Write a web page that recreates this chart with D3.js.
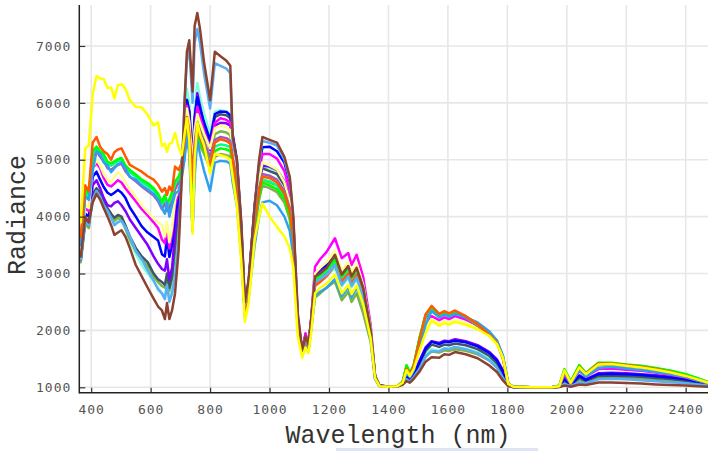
<!DOCTYPE html>
<html>
<head>
<meta charset="utf-8">
<script src="https://cdn.jsdelivr.net/npm/d3@7"></script>
<style>
  html, body { margin: 0; padding: 0; background: #fff; }
  svg { display: block; }
</style>
</head>
<body>
<svg id="chart" width="708" height="451"></svg>
<script>
// Sampling wavelengths (nm) shared by every spectrum
const wavelengths = [
  365, 380, 392, 405, 418, 430, 442, 455, 467, 478,
  490, 502, 515, 530, 550, 570, 590, 610, 625, 638,
  648, 655, 663, 672, 682, 694, 705, 714, 722, 730,
  741, 748, 757, 766, 780, 800, 816, 835, 855, 868,
  876, 890, 905, 917, 930, 950, 965, 976, 1000, 1025,
  1050, 1068, 1080, 1095, 1110, 1121, 1131, 1140, 1153, 1170,
  1192, 1220, 1243, 1265, 1276, 1293, 1315, 1340, 1355, 1370,
  1400, 1430, 1448, 1461, 1472, 1485, 1505, 1525, 1545, 1571,
  1588, 1604, 1624, 1660, 1700, 1740, 1765, 1785, 1803, 1820,
  1880, 1950, 1975, 1992, 2013, 2042, 2064, 2106, 2150, 2200,
  2250, 2300, 2350, 2400, 2440, 2476
];

// Radiance spectra
const aquamarine = [
  3200, 3850, 3800, 4300, 4400, 4320, 4150, 4050, 3950, 3900,
  3950, 3920, 3780, 3560, 3350, 3150, 3000, 2860, 2750, 2650,
  2600, 2850, 2590, 2800, 3300, 4100, 4950, 5700, 6250, 6000,
  5100, 5900, 6350, 6100, 5800, 5450, 5850, 5870, 5850, 5800,
  5400, 5000, 3800, 2420, 2870, 4150, 4700, 4900, 4850, 4800,
  4600, 4300, 3700, 2150, 1630, 1900, 1730, 2130, 2800, 2880,
  2960, 3100, 2780, 2920, 2760, 2900, 2560, 1900, 1170, 1025,
  1010, 1012, 1050, 1150, 1100, 1170, 1380, 1580, 1670, 1640,
  1690, 1680, 1710, 1680, 1620, 1500, 1380, 1210, 1030, 1005,
  1000, 1000, 1010, 1100, 1030, 1145, 1095, 1165, 1170, 1160,
  1150, 1135, 1115, 1090, 1065, 1040
];
const yellowgreen = [
  3200, 3900, 3800, 4350, 4450, 4370, 4200, 4100, 4000, 3930,
  3980, 3950, 3800, 3600, 3400, 3250, 3130, 2950, 2850, 2780,
  2750, 2950, 2700, 2900, 3400, 4100, 4800, 5400, 5800, 5500,
  4300, 5300, 5700, 5550, 5350, 5000, 5450, 5500, 5480, 5430,
  5100, 4700, 3600, 2330, 2750, 3950, 4450, 4650, 4600, 4550,
  4350, 4050, 3500, 2050, 1580, 1830, 1690, 2030, 2580, 2650,
  2750, 2860, 2530, 2680, 2500, 2650, 2300, 1800, 1150, 1020,
  1010, 1012, 1045, 1130, 1090, 1150, 1340, 1540, 1630, 1610,
  1650, 1640, 1670, 1640, 1580, 1470, 1350, 1190, 1030, 1005,
  1000, 1000, 1008, 1090, 1025, 1130, 1085, 1160, 1165, 1155,
  1145, 1130, 1110, 1085, 1060, 1035
];
const darkslate = [
  3250, 3950, 3850, 4400, 4500, 4420, 4250, 4150, 4050, 3980,
  4030, 4000, 3850, 3650, 3450, 3300, 3200, 3000, 2900, 2850,
  2800, 3000, 2750, 2950, 3500, 4200, 4950, 5550, 6050, 5850,
  4950, 5700, 6100, 5900, 5600, 5300, 5750, 5800, 5780, 5730,
  5350, 4950, 3750, 2400, 2850, 4100, 4650, 4850, 4800, 4750,
  4550, 4250, 3650, 2150, 1630, 1900, 1730, 2150, 2900, 2980,
  3080, 3230, 2920, 3060, 2890, 3040, 2700, 1980, 1185, 1028,
  1010, 1015, 1055, 1170, 1110, 1190, 1420, 1640, 1750, 1710,
  1750, 1740, 1770, 1740, 1670, 1550, 1420, 1240, 1035, 1005,
  1000, 1000, 1010, 1120, 1035, 1170, 1110, 1200, 1205, 1195,
  1185, 1165, 1145, 1115, 1085, 1050
];
const purple = [
  3250, 3950, 3900, 4550, 4640, 4500, 4330, 4200, 4180, 4240,
  4270, 4200, 4100, 3950, 3800, 3650, 3500, 3300, 3170, 3080,
  3050, 3250, 2890, 3100, 3700, 4300, 4900, 5500, 5900, 5700,
  4800, 5650, 6170, 5950, 5600, 5170, 5600, 5650, 5640, 5600,
  5250, 4850, 3700, 2380, 2820, 4100, 4650, 4900, 4880, 4820,
  4620, 4300, 3700, 2150, 1630, 1900, 1730, 2150, 2950, 3030,
  3120, 3280, 2970, 3100, 2930, 3080, 2720, 1990, 1190, 1030,
  1010, 1015, 1065, 1200, 1130, 1220, 1470, 1700, 1810, 1780,
  1820, 1810, 1845, 1810, 1740, 1620, 1490, 1300, 1040, 1005,
  1000, 1000, 1012, 1160, 1045, 1210, 1140, 1245, 1255, 1245,
  1230, 1210, 1185, 1150, 1110, 1065
];
const blue = [
  3300, 4050, 4000, 4700, 4790, 4650, 4520, 4420, 4380, 4420,
  4470, 4420, 4330, 4160, 4000, 3830, 3720, 3640, 3580, 3340,
  3300, 3650, 3290, 3500, 4000, 4400, 4950, 5600, 6050, 5850,
  4900, 5750, 6100, 5900, 5650, 5350, 5800, 5850, 5840, 5780,
  5450, 5000, 3800, 2420, 2870, 4200, 4900, 5220, 5230, 5150,
  4950, 4600, 3900, 2200, 1650, 1930, 1750, 2180, 2980, 3080,
  3150, 3300, 3000, 3130, 2950, 3100, 2750, 2000, 1190, 1030,
  1010, 1015, 1060, 1180, 1120, 1200, 1450, 1680, 1800, 1760,
  1800, 1790, 1820, 1790, 1720, 1600, 1470, 1280, 1040, 1005,
  1000, 1000, 1010, 1150, 1040, 1200, 1130, 1230, 1240, 1230,
  1215, 1195, 1170, 1140, 1100, 1060
];
const magenta = [
  3350, 4150, 4100, 4850, 4940, 4850, 4680, 4560, 4530, 4580,
  4640, 4600, 4500, 4400, 4270, 4130, 4020, 3900, 3800, 3600,
  3530, 3820, 3440, 3700, 4200, 4450, 4900, 5500, 5950, 5700,
  4900, 5550, 5930, 5750, 5500, 5200, 5650, 5730, 5700, 5650,
  5350, 4900, 3750, 2400, 2850, 4150, 4800, 5100, 5100, 5020,
  4800, 4450, 3800, 2200, 1650, 1950, 1750, 2200, 3120, 3250,
  3380, 3620, 3270, 3360, 3150, 3330, 2940, 2100, 1200, 1030,
  1010, 1020, 1080, 1300, 1200, 1320, 1720, 2080, 2250, 2180,
  2230, 2200, 2250, 2190, 2090, 1940, 1800, 1540, 1060, 1010,
  1000, 1000, 1015, 1220, 1060, 1290, 1190, 1320, 1330, 1310,
  1290, 1260, 1220, 1170, 1120, 1070
];
const lightyellow = [
  3400, 4200, 4150, 4850, 5000, 4900, 4750, 4650, 4600, 4700,
  4780, 4720, 4600, 4480, 4350, 4200, 4080, 3970, 3900, 3850,
  3650, 3900, 3550, 3800, 4300, 4500, 4900, 5500, 5900, 5650,
  4900, 5500, 5800, 5650, 5450, 5200, 5550, 5600, 5570, 5520,
  5200, 4800, 3700, 2380, 2780, 4050, 4650, 4950, 4900, 4830,
  4600, 4250, 3700, 2150, 1620, 1880, 1720, 2120, 3000, 3100,
  3200, 3400, 3050, 3200, 3000, 3180, 2800, 2030, 1190, 1025,
  1010, 1020, 1085, 1320, 1210, 1330, 1720, 2050, 2200, 2120,
  2170, 2140, 2190, 2130, 2040, 1900, 1760, 1520, 1060, 1010,
  1000, 1000, 1020, 1280, 1080, 1340, 1230, 1390, 1400, 1370,
  1340, 1300, 1260, 1200, 1140, 1080
];
const mauve = [
  3500, 4400, 4300, 5050, 5150, 5050, 4980, 4850, 4820, 4870,
  4910, 4930, 4800, 4700, 4620, 4530, 4450, 4370, 4270, 4130,
  4240, 4100, 4160, 4300, 4480, 4600, 4800, 5200, 5600, 5400,
  4800, 5300, 5650, 5500, 5300, 5050, 5350, 5400, 5380, 5330,
  5050, 4650, 3600, 2350, 2750, 3950, 4500, 4750, 4720, 4650,
  4450, 4150, 3650, 2100, 1600, 1850, 1700, 2080, 2850, 2920,
  3020, 3200, 2900, 3050, 2870, 3030, 2700, 1970, 1185, 1025,
  1010, 1020, 1090, 1350, 1230, 1360, 1820, 2220, 2350, 2240,
  2290, 2260, 2300, 2220, 2080, 1920, 1790, 1520, 1060, 1010,
  1000, 1000, 1020, 1280, 1085, 1350, 1230, 1390, 1395, 1370,
  1345, 1305, 1265, 1210, 1145, 1080
];
const olive = [
  3550, 4450, 4350, 5100, 5220, 5120, 5050, 4930, 4900, 4950,
  4990, 5010, 4880, 4790, 4710, 4620, 4550, 4470, 4370, 4230,
  4340, 4200, 4260, 4400, 4580, 4650, 4800, 5150, 5550, 5250,
  3800, 4900, 5380, 5250, 5100, 4850, 5050, 5100, 5080, 5050,
  4800, 4400, 3400, 2250, 2650, 3800, 4300, 4550, 4500, 4430,
  4250, 3950, 3450, 2050, 1580, 1810, 1680, 2040, 2800, 2880,
  2980, 3150, 2850, 3000, 2830, 2980, 2650, 1950, 1180, 1025,
  1010, 1020, 1095, 1370, 1240, 1380, 1860, 2260, 2380, 2270,
  2310, 2280, 2320, 2240, 2100, 1940, 1810, 1530, 1060, 1010,
  1000, 1000, 1025, 1300, 1090, 1370, 1240, 1410, 1410, 1385,
  1360, 1320, 1280, 1220, 1150, 1085
];
const springgreen = [
  3550, 4450, 4350, 5100, 5200, 5100, 5050, 4920, 4900, 4930,
  4970, 4990, 4860, 4780, 4700, 4610, 4540, 4460, 4360, 4220,
  4330, 4200, 4250, 4400, 4580, 4680, 4850, 5250, 5650, 5400,
  4300, 5050, 5500, 5350, 5200, 4950, 5230, 5270, 5250, 5220,
  4950, 4550, 3500, 2300, 2700, 3850, 4400, 4650, 4620, 4550,
  4350, 4050, 3550, 2090, 1590, 1840, 1690, 2070, 2880, 2950,
  3050, 3220, 2920, 3070, 2900, 3050, 2720, 1980, 1190, 1025,
  1010, 1020, 1100, 1380, 1245, 1385, 1870, 2270, 2390, 2275,
  2315, 2285, 2325, 2245, 2105, 1945, 1815, 1535, 1060, 1010,
  1000, 1000, 1028, 1310, 1095, 1380, 1245, 1420, 1420, 1392,
  1370, 1330, 1285, 1225, 1155, 1088
];
const lime = [
  3600, 4500, 4400, 5150, 5230, 5150, 5100, 4960, 4940, 4970,
  5010, 5030, 4900, 4820, 4740, 4650, 4590, 4500, 4400, 4260,
  4380, 4250, 4300, 4440, 4620, 4700, 4850, 5200, 5600, 5350,
  4500, 5000, 5450, 5300, 5150, 4900, 5150, 5200, 5180, 5150,
  4900, 4500, 3450, 2280, 2680, 3850, 4350, 4600, 4550, 4480,
  4300, 4000, 3500, 2080, 1590, 1830, 1690, 2060, 2900, 2980,
  3080, 3250, 2950, 3100, 2930, 3080, 2750, 2000, 1190, 1025,
  1010, 1020, 1100, 1390, 1250, 1390, 1880, 2280, 2400, 2280,
  2320, 2290, 2330, 2250, 2110, 1950, 1820, 1540, 1060, 1010,
  1000, 1000, 1030, 1320, 1100, 1390, 1250, 1430, 1430, 1400,
  1380, 1340, 1290, 1230, 1160, 1090
];
const dodger = [
  3500, 4350, 4300, 4800, 5150, 5100, 4950, 4900, 4780, 4850,
  4920, 4950, 4850, 4700, 4650, 4550, 4480, 4400, 4300, 4150,
  4050, 4250, 4000, 4200, 4400, 4450, 4700, 5000, 5400, 5100,
  3750, 4700, 5350, 5100, 4800, 4450, 4950, 4980, 4970, 4930,
  4600, 4200, 3300, 2250, 2600, 3500, 4000, 4250, 4280, 4200,
  4000, 3750, 3300, 2000, 1560, 1780, 1650, 2000, 2620, 2680,
  2750, 2900, 2600, 2760, 2580, 2750, 2450, 1850, 1150, 1020,
  1010, 1018, 1080, 1250, 1180, 1300, 1700, 2100, 2340, 2230,
  2280, 2240, 2290, 2230, 2140, 1980, 1820, 1560, 1060, 1010,
  1000, 1000, 1020, 1250, 1060, 1300, 1190, 1340, 1360, 1330,
  1300, 1270, 1230, 1180, 1120, 1070
];
const orangered = [
  3650, 4550, 4450, 5300, 5400, 5230, 5150, 5100, 5000, 5130,
  5180, 5200, 5060, 4910, 4850, 4790, 4710, 4650, 4560, 4440,
  4500, 4380, 4530, 4450, 4880, 4820, 4950, 5300, 5750, 5500,
  4600, 5200, 5550, 5400, 5200, 4900, 5300, 5360, 5330, 5280,
  5000, 4550, 3500, 2300, 2700, 3900, 4450, 4700, 4680, 4600,
  4400, 4100, 3600, 2100, 1600, 1850, 1700, 2080, 2780, 2850,
  2950, 3150, 2850, 3000, 2820, 2980, 2650, 1950, 1180, 1025,
  1010, 1020, 1090, 1330, 1230, 1380, 1850, 2280, 2430, 2290,
  2340, 2300, 2350, 2250, 2110, 1920, 1780, 1500, 1060, 1010,
  1000, 1000, 1020, 1290, 1080, 1360, 1240, 1420, 1420, 1390,
  1360, 1320, 1270, 1200, 1140, 1080
];
const skyblue = [
  3250, 3900, 3850, 4300, 4450, 4350, 4200, 4100, 3980, 3850,
  3900, 3930, 3820, 3650, 3400, 3250, 3050, 2880, 2720, 2650,
  2550, 2800, 2500, 2650, 2950, 3600, 4800, 6000, 6750, 6950,
  6000, 7050, 7300, 7050, 6500, 5900, 6700, 6650, 6600, 6520,
  5300, 4950, 3850, 2450, 2850, 4150, 4950, 5330, 5300, 5250,
  5000, 4650, 3950, 2250, 1620, 1880, 1720, 2150, 2850, 2900,
  2980, 3150, 2800, 2950, 2780, 2930, 2600, 1950, 1180, 1025,
  1010, 1015, 1060, 1140, 1100, 1180, 1330, 1540, 1640, 1630,
  1680, 1670, 1710, 1670, 1600, 1470, 1340, 1170, 1030, 1005,
  1000, 1000, 1008, 1060, 1020, 1090, 1070, 1140, 1150, 1140,
  1125, 1105, 1090, 1070, 1050, 1030
];
const brown = [
  3300, 4000, 3900, 4250, 4400, 4300, 4150, 4000, 3850, 3680,
  3720, 3760, 3650, 3450, 3150, 2950, 2750, 2560, 2420, 2350,
  2200, 2480, 2200, 2350, 2650, 3400, 4700, 6000, 6900, 7100,
  6200, 7350, 7580, 7300, 6700, 6050, 6900, 6820, 6740, 6650,
  5400, 5000, 3900, 2500, 2900, 4200, 5000, 5400, 5350, 5300,
  5050, 4700, 4000, 2300, 1650, 1900, 1750, 2200, 2950, 3000,
  3100, 3330, 2980, 3130, 2950, 3100, 2750, 2000, 1200, 1030,
  1010, 1015, 1050, 1110, 1080, 1150, 1280, 1450, 1530, 1520,
  1580, 1570, 1620, 1580, 1510, 1380, 1270, 1120, 1020, 1005,
  1000, 1000, 1005, 1030, 1010, 1050, 1040, 1085, 1085, 1075,
  1065, 1050, 1040, 1030, 1020, 1010
];
const yellow = [
  3900, 5200, 5250, 6150, 6470, 6430, 6420, 6260, 6270, 6080,
  6310, 6330, 6250, 6050, 5930, 5920, 5790, 5600, 5660, 5240,
  5280, 5140, 5280, 5300, 5470, 5230, 5080, 5450, 5730, 5350,
  3700, 5000, 5650, 5450, 5250, 4760, 5100, 5080, 5050, 5000,
  4700, 4200, 3200, 2150, 2500, 3600, 4000, 4230, 4000, 3820,
  3650, 3450, 3100, 1900, 1520, 1700, 1600, 1950, 2650, 2750,
  2820, 2980, 2650, 2800, 2640, 2790, 2460, 1860, 1160, 1020,
  1010, 1020, 1080, 1300, 1200, 1320, 1650, 1950, 2170, 2080,
  2130, 2100, 2150, 2100, 2020, 1900, 1760, 1520, 1060, 1010,
  1000, 1000, 1020, 1300, 1080, 1350, 1230, 1400, 1410, 1380,
  1350, 1310, 1260, 1200, 1140, 1080
];

// Drawing order (later entries sit on top) and stroke colours
const spectra = [aquamarine, yellowgreen, darkslate, purple, blue, magenta,
  lightyellow, mauve, olive, springgreen, lime, dodger, orangered, skyblue, brown, yellow];
const spectrumColors = ["#7fffd4", "#7cb342", "#3d5566", "#7f00ff", "#0000ff", "#ff00ff",
  "#ffff8c", "#a35cb8", "#8fa85a", "#00ff88", "#00ff00", "#2ea0f0", "#ff5a00", "#5aaef5", "#8b4230", "#ffff00"];

const xTicks = [400, 600, 800, 1000, 1200, 1400, 1600, 1800, 2000, 2200, 2400];
const yTicks = [1000, 2000, 3000, 4000, 5000, 6000, 7000];

const plotLeft = 79.3, plotRight = 708.3, plotTop = 5, plotBottom = 392.7;
const x = d3.scaleLinear().domain([360, 2476]).range([plotLeft, plotRight]);
const y = d3.scaleLinear().domain([905, 7720]).range([plotBottom, plotTop]);

const svg = d3.select("#chart");

// Grid
const grid = svg.append("g").attr("stroke", "#e7e7e7").attr("stroke-width", 1.6);
grid.selectAll("line.v").data(xTicks).join("line").attr("class", "v")
  .attr("x1", d => x(d)).attr("x2", d => x(d)).attr("y1", plotTop).attr("y2", plotBottom);
grid.selectAll("line.h").data(yTicks).join("line").attr("class", "h")
  .attr("x1", plotLeft).attr("x2", plotRight).attr("y1", d => y(d)).attr("y2", d => y(d));

// Spectra
const plot = svg.append("g");
plot.append("clipPath").attr("id", "clip").append("rect")
  .attr("x", plotLeft).attr("y", 0).attr("width", plotRight - plotLeft).attr("height", plotBottom);
const line = d3.line().x((d, i) => x(wavelengths[i])).y(d => y(d));
plot.append("g").attr("clip-path", "url(#clip)")
  .selectAll("path").data(spectra).join("path")
  .attr("d", d => line(d))
  .attr("fill", "none")
  .attr("stroke", (d, i) => spectrumColors[i])
  .attr("stroke-width", 2.5)
  .attr("stroke-linejoin", "round")
  .attr("stroke-linecap", "round");

// Axes
const xAxis = svg.append("g").attr("transform", `translate(0,${plotBottom})`)
  .call(d3.axisBottom(x).tickValues(xTicks).tickFormat(d3.format("d"))
    .tickSizeInner(-5).tickSizeOuter(0).tickPadding(12));
const yAxis = svg.append("g").attr("transform", `translate(${plotLeft},0)`)
  .call(d3.axisLeft(y).tickValues(yTicks).tickFormat(d3.format("d"))
    .tickSizeInner(-6).tickSizeOuter(0).tickPadding(8));

[xAxis, yAxis].forEach(a => {
  a.select(".domain").remove();
  a.selectAll(".tick line").attr("stroke", "#333").attr("stroke-width", 1.2);
  a.selectAll(".tick text")
    .attr("fill", "#555")
    .style("font-family", "'DejaVu Sans Mono', monospace")
    .style("font-size", "13px")
    .style("letter-spacing", "1px");
});

svg.append("line").attr("x1", plotLeft).attr("x2", plotLeft).attr("y1", plotTop).attr("y2", plotBottom + 0.7)
  .attr("stroke", "#222").attr("stroke-width", 1.5);
svg.append("line").attr("x1", plotLeft).attr("x2", plotRight).attr("y1", plotBottom).attr("y2", plotBottom)
  .attr("stroke", "#222").attr("stroke-width", 1.5);

// Axis titles
svg.append("text")
  .attr("x", 398).attr("y", 443)
  .attr("text-anchor", "middle")
  .attr("fill", "#333")
  .style("font-family", "'Liberation Mono', 'Courier New', monospace")
  .style("font-size", "25px")
  .text("Wavelength (nm)");
svg.append("text")
  .attr("transform", "translate(25,215) rotate(-90)")
  .attr("text-anchor", "middle")
  .attr("fill", "#333")
  .style("font-family", "'Liberation Mono', 'Courier New', monospace")
  .style("font-size", "25px")
  .text("Radiance");

// Faint band along the bottom edge
svg.append("rect").attr("x", 336).attr("y", 448).attr("width", 202).attr("height", 3)
  .attr("fill", "#dfe4f4");
</script>
</body>
</html>
